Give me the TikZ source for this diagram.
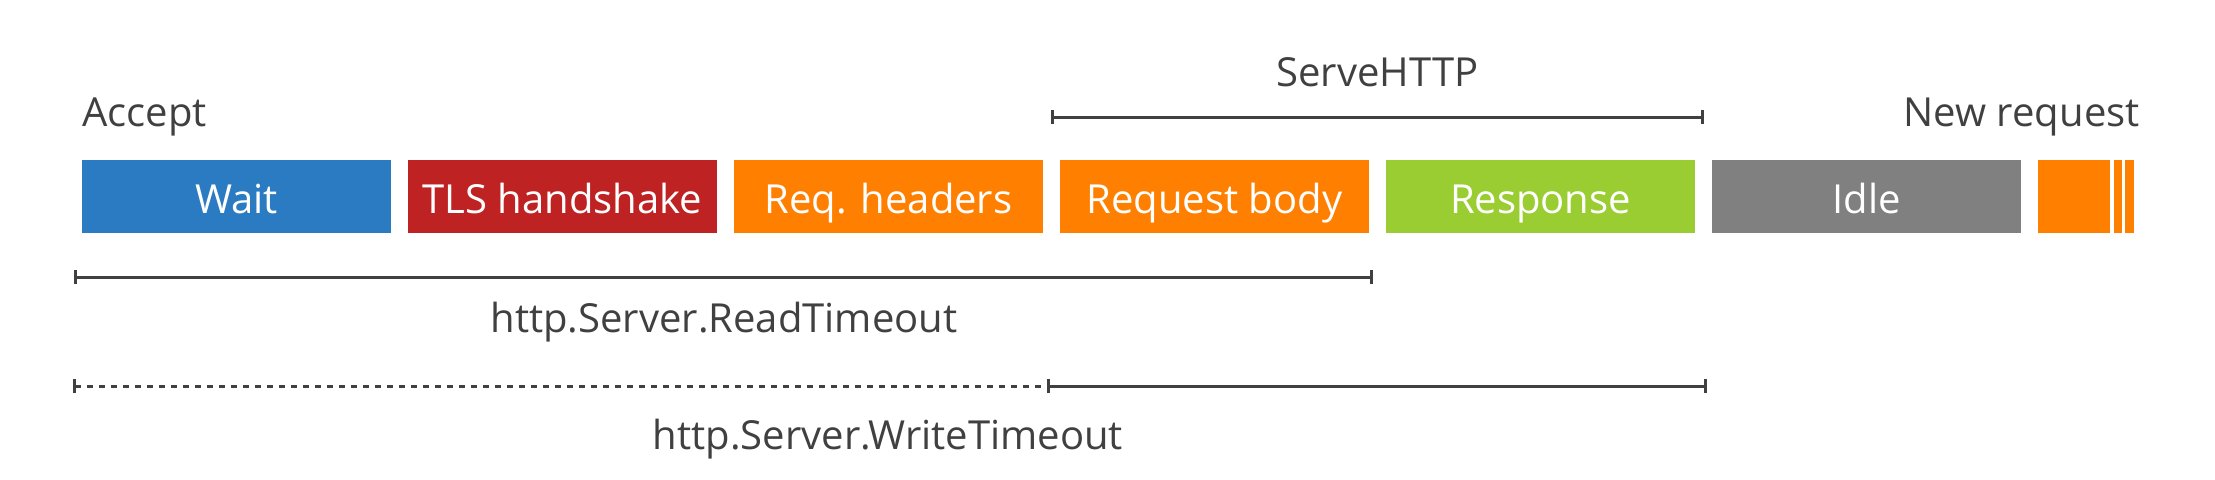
\documentclass[tikz,border=0pt]{standalone}
\usepackage{fontspec}
\setmainfont{Open Sans}
\usetikzlibrary{arrows.meta}
\definecolor{cwait}{RGB}{43,123,195}
\definecolor{ctls}{RGB}{191,34,34}
\definecolor{corange}{RGB}{255,127,0}
\definecolor{cgreen}{RGB}{154,205,50}
\definecolor{cidle}{RGB}{128,128,128}
\definecolor{cline}{RGB}{64,64,64}
\definecolor{ctext}{RGB}{64,64,64}
\tikzset{
  phase/.style={fill=#1, draw=none},
  phaselabel/.style={anchor=base, text=white, font=\fontsize{20}{24}\selectfont, inner sep=0pt},
  plabel/.style={text=ctext, font=\fontsize{20}{24}\selectfont, inner sep=0pt},
  span/.style={draw=cline, line width=1.5pt},
  spandash/.style={draw=cline, line width=1.5pt, dash pattern=on 3pt off 3pt},
  tickboth/.style={arrows={Bar[width=7pt]-Bar[width=7pt]}},
  tickstart/.style={arrows={Bar[width=7pt]-}}
}
\begin{document}
\begin{tikzpicture}[x=0.5pt,y=-0.5pt]
\useasboundingbox (0,0) rectangle (2215,479);
% phase boxes
\fill[phase=cwait]   (82,160) rectangle (391,233);
\fill[phase=ctls]    (408,160) rectangle (717,233);
\fill[phase=corange] (734,160) rectangle (1043,233);
\fill[phase=corange] (1060,160) rectangle (1369,233);
\fill[phase=cgreen]  (1386,160) rectangle (1695,233);
\fill[phase=cidle]   (1712,160) rectangle (2021,233);
\fill[phase=corange] (2038,160) rectangle (2110,233);
\fill[phase=corange] (2114,160) rectangle (2122,233);
\fill[phase=corange] (2125,160) rectangle (2134,233);
% phase labels
\node[phaselabel] (lwait) at (236.5,213) {Wait};
\node[phaselabel] (ltls)  at (562.5,213) {TLS handshake};
\node[phaselabel] (lreqh) at (888.5,213) {Req. headers};
\node[phaselabel] (lreqb) at (1214.5,213) {Request body};
\node[phaselabel] (lresp) at (1540.5,213) {Response};
\node[phaselabel] (lidle) at (1866.5,213) {Idle};
% top labels
\node[plabel, anchor=base west] (accept) at (82,126) {Accept};
\node[plabel, anchor=base east] (newreq) at (2140,126) {New request};
\node[plabel, anchor=base] (serve) at (1377.5,86) {ServeHTTP};
% span coordinates
\coordinate (s1) at (1051,117);
\coordinate (s2) at (1704,117);
\coordinate (r1) at (74,277);
\coordinate (r2) at (1373,277);
\coordinate (w1) at (73,386);
\coordinate (w2) at (1047,386);
\coordinate (w3) at (1707,386);
% spans
\draw[span, tickboth] (s1) -- (s2);
\draw[span, tickboth] (r1) -- (r2);
\draw[spandash, tickstart] (w1) -- (w2);
\draw[span, tickboth] (w2) -- (w3);
% span labels
\node[plabel, anchor=base] (readlbl) at (724,332) {http.Server.ReadTimeout};
\node[plabel, anchor=base] (writelbl) at (888,449) {http.Server.WriteTimeout};
\end{tikzpicture}
\end{document}
